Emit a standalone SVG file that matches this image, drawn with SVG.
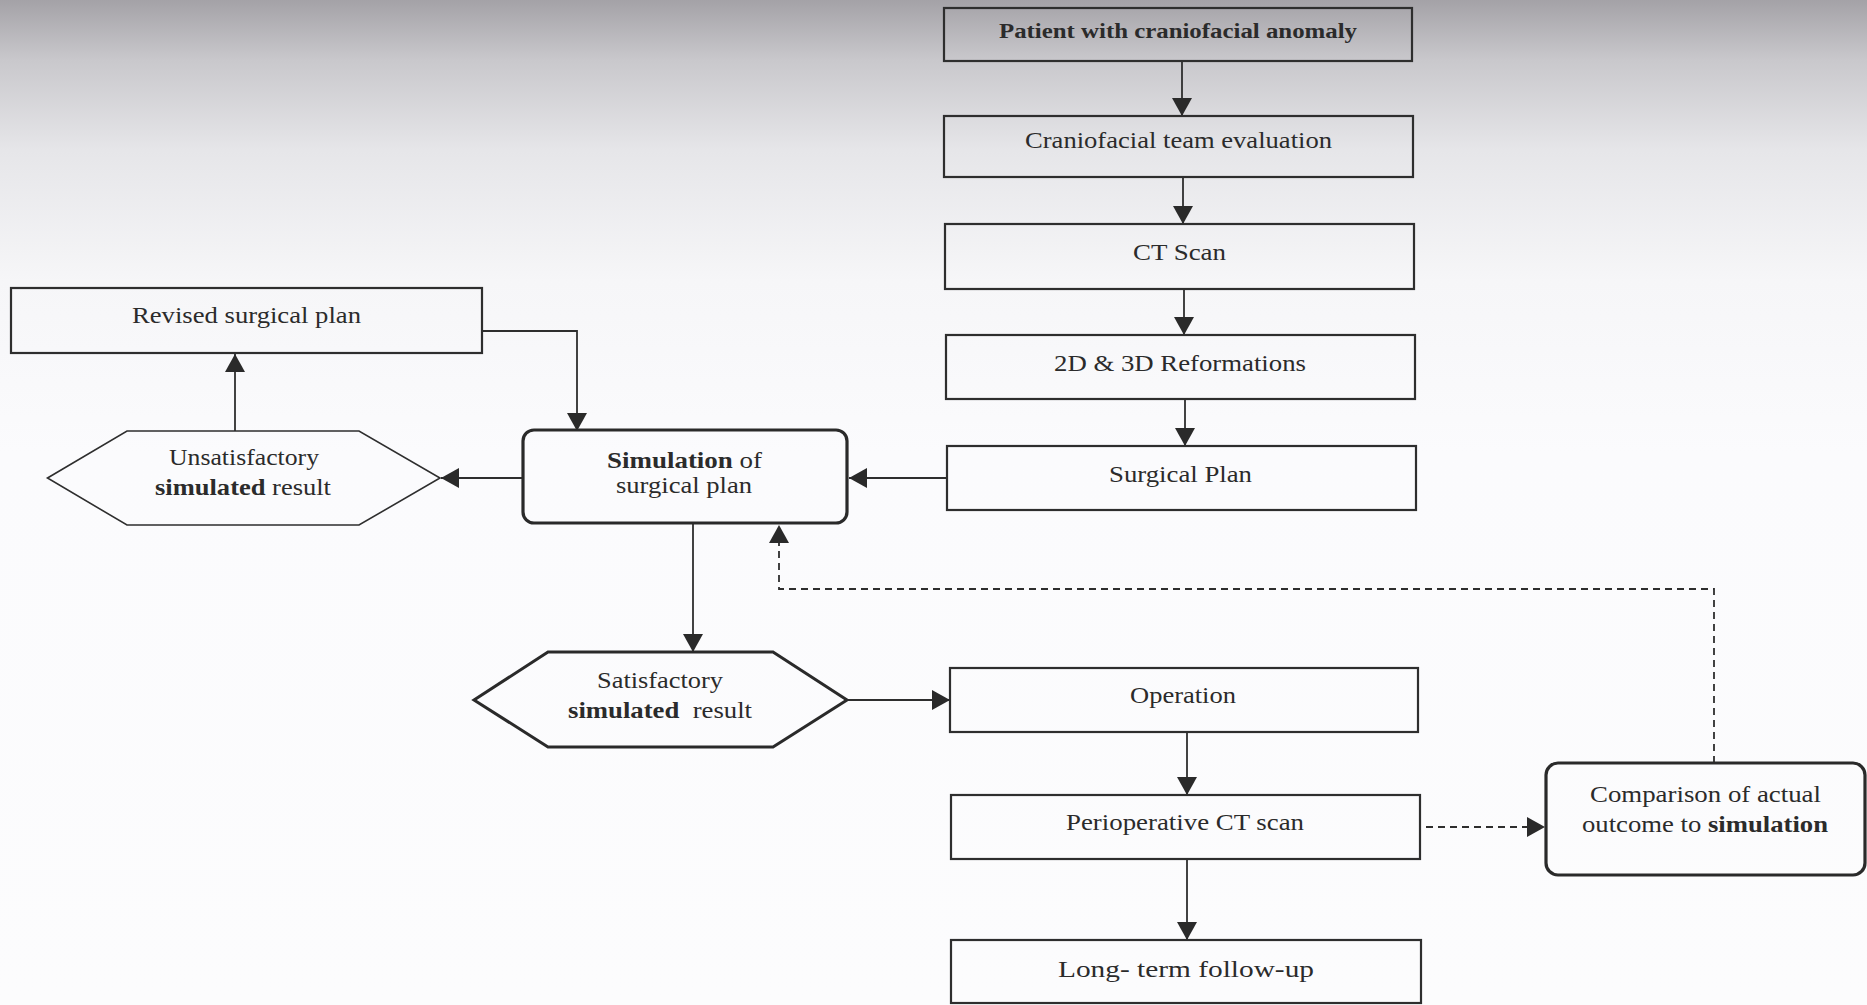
<svg xmlns="http://www.w3.org/2000/svg" width="1867" height="1005" viewBox="0 0 1867 1005">
<defs>
<linearGradient id="bg" x1="0" y1="0" x2="0" y2="1005" gradientUnits="userSpaceOnUse">
<stop offset="0" stop-color="#a4a2a7"/>
<stop offset="0.06" stop-color="#c9c8cc"/>
<stop offset="0.15" stop-color="#e6e6e9"/>
<stop offset="0.28" stop-color="#f6f6f8"/>
<stop offset="0.45" stop-color="#fbfbfd"/>
<stop offset="1" stop-color="#fcfcfd"/>
</linearGradient>
<marker id="ah" markerUnits="userSpaceOnUse" markerWidth="20" markerHeight="20" viewBox="0 0 18 20" refX="18" refY="10" orient="auto">
<path d="M0,0 L18,10 L0,20 z" fill="#2a2a2a"/>
</marker>
<style>
.box{fill:none;stroke:#2e2e2e;stroke-width:2.2}
.rbox{fill:none;stroke:#2a2a2a;stroke-width:3.2}
.hex{fill:none;stroke:#2e2e2e;stroke-width:1.6}
.hexb{fill:none;stroke:#2a2a2a;stroke-width:3}
.t{font-family:"Liberation Serif","Times New Roman",serif;font-size:24px;fill:#2b2b2b;text-anchor:middle}
.b{font-weight:bold}
.ln{fill:none;stroke:#2e2e2e;stroke-width:1.8}
.dash{fill:none;stroke:#2e2e2e;stroke-width:1.8;stroke-dasharray:7 5}
</style>
</defs>
<rect x="0" y="0" width="1867" height="1005" fill="url(#bg)"/>

<g id="connectors">
<path class="ln" d="M1182,61 L1182,116" marker-end="url(#ah)"/>
<path class="ln" d="M1183,177 L1183,224" marker-end="url(#ah)"/>
<path class="ln" d="M1184,289 L1184,335" marker-end="url(#ah)"/>
<path class="ln" d="M1185,399 L1185,446" marker-end="url(#ah)"/>
<path class="ln" d="M947,478 L849,478" marker-end="url(#ah)"/>
<path class="ln" d="M523,478 L441,478" marker-end="url(#ah)"/>
<path class="ln" d="M235,431 L235,354" marker-end="url(#ah)"/>
<path class="ln" d="M482,331 L577,331 L577,431" marker-end="url(#ah)"/>
<path class="ln" d="M693,523 L693,652" marker-end="url(#ah)"/>
<path class="ln" d="M847,700 L950,700" marker-end="url(#ah)"/>
<path class="ln" d="M1187,732 L1187,795" marker-end="url(#ah)"/>
<path class="ln" d="M1187,859 L1187,940" marker-end="url(#ah)"/>
<path class="dash" d="M1426,827 L1545,827" marker-end="url(#ah)"/>
<path class="dash" d="M1714,763 L1714,589 L779,589 L779,525" marker-end="url(#ah)"/>
</g>

<g id="patient">
<rect class="box" x="944" y="8" width="468" height="53"/>
<text class="t b" x="1178" y="38" style="font-size:20px" textLength="358" lengthAdjust="spacingAndGlyphs">Patient with craniofacial anomaly</text>
</g>
<g id="team">
<rect class="box" x="944" y="116" width="469" height="61"/>
<text class="t" x="1178.5" y="148" textLength="307" lengthAdjust="spacingAndGlyphs">Craniofacial team evaluation</text>
</g>
<g id="ctscan">
<rect class="box" x="945" y="224" width="469" height="65"/>
<text class="t" x="1179.5" y="260" textLength="93" lengthAdjust="spacingAndGlyphs">CT Scan</text>
</g>
<g id="reform">
<rect class="box" x="946" y="335" width="469" height="64"/>
<text class="t" x="1180" y="371" textLength="252" lengthAdjust="spacingAndGlyphs">2D &amp; 3D Reformations</text>
</g>
<g id="plan">
<rect class="box" x="947" y="446" width="469" height="64"/>
<text class="t" x="1180.5" y="482" textLength="143" lengthAdjust="spacingAndGlyphs">Surgical Plan</text>
</g>
<g id="revised">
<rect class="box" x="11" y="288" width="471" height="65"/>
<text class="t" x="246.5" y="323" textLength="229" lengthAdjust="spacingAndGlyphs">Revised surgical plan</text>
</g>
<g id="unsat">
<polygon class="hex" points="47.5,478 127,431 359,431 440,478 359,525 127,525"/>
<text class="t" x="244" y="465" textLength="150" lengthAdjust="spacingAndGlyphs">Unsatisfactory</text>
<text class="t" x="243" y="495" textLength="176" lengthAdjust="spacingAndGlyphs"><tspan class="b">simulated</tspan> result</text>
</g>
<g id="simulation">
<rect class="rbox" x="523" y="430" width="324" height="93" rx="11"/>
<text class="t" x="684.5" y="468" textLength="155" lengthAdjust="spacingAndGlyphs"><tspan class="b">Simulation</tspan> of</text>
<text class="t" x="684" y="493" textLength="136" lengthAdjust="spacingAndGlyphs">surgical plan</text>
</g>
<g id="sat">
<polygon class="hexb" points="474,700 548,652 773,652 847,700 773,747 548,747"/>
<text class="t" x="660" y="688" textLength="126" lengthAdjust="spacingAndGlyphs">Satisfactory</text>
<text class="t" x="660" y="718" textLength="184" lengthAdjust="spacingAndGlyphs" xml:space="preserve"><tspan class="b">simulated</tspan>  result</text>
</g>
<g id="operation">
<rect class="box" x="950" y="668" width="468" height="64"/>
<text class="t" x="1183" y="703" textLength="106" lengthAdjust="spacingAndGlyphs">Operation</text>
</g>
<g id="perioct">
<rect class="box" x="951" y="795" width="469" height="64"/>
<text class="t" x="1185" y="830" textLength="238" lengthAdjust="spacingAndGlyphs">Perioperative CT scan</text>
</g>
<g id="followup">
<rect class="box" x="951" y="940" width="470" height="63"/>
<text class="t" x="1186" y="977" textLength="256" lengthAdjust="spacingAndGlyphs">Long- term follow-up</text>
</g>
<g id="comparison">
<rect class="rbox" x="1546" y="763" width="319" height="112" rx="12"/>
<text class="t" x="1705.5" y="802" textLength="231" lengthAdjust="spacingAndGlyphs">Comparison of actual</text>
<text class="t" x="1705" y="832" textLength="246" lengthAdjust="spacingAndGlyphs">outcome to <tspan class="b">simulation</tspan></text>
</g>
</svg>
